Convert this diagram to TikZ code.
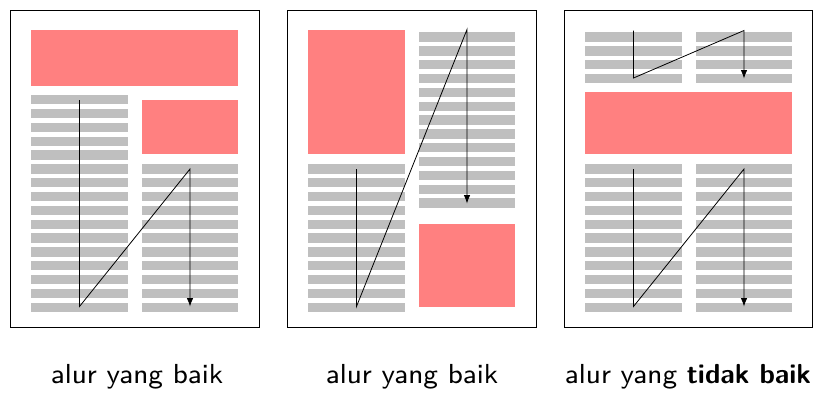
\documentclass[tikz,border=0pt]{standalone}
\usepackage{fontspec}
\newfontfamily\capreg{lmsans8-regular.otf}
\newfontfamily\capbold{lmsans10-bold.otf}
\usetikzlibrary{arrows.meta}
\begin{document}
\begin{tikzpicture}[x=1pt,y=-1pt,
  pageframe/.style={draw=black,line width=0.9pt},
  redblock/.style={fill=red!50,draw=none},
  grayline/.style={fill=black!25,draw=none},
  flow/.style={draw=black,line width=0.8pt,line join=miter,-{Latex[length=8.5pt,width=6.5pt]}},
  caption/.style={anchor=base,inner sep=0pt,font=\capreg\fontsize{27.5}{33}\selectfont}]
\useasboundingbox (0,0) rectangle (814,392);
% ---------- panel 1 ----------
\draw[pageframe] (10.5,10) rectangle (259.5,327.5);
\fill[redblock] (31,30) rectangle (238,86);
\fill[redblock] (142,100) rectangle (238,154);
\foreach \i in {0,...,15}{\fill[grayline] (31,95+\i*13.84) rectangle (128,104.4+\i*13.84);}
\foreach \i in {5,...,15}{\fill[grayline] (142,95+\i*13.84) rectangle (238,104.4+\i*13.84);}
\coordinate (p1a) at (79.5,100);
\coordinate (p1b) at (79.5,306.5);
\coordinate (p1c) at (190,169);
\coordinate (p1d) at (190,306.5);
\draw[flow] (p1a) -- (p1b) -- (p1c) -- (p1d);
\node[caption] (cap1) at (137,383.5) {alur yang baik};
% ---------- panel 2 ----------
\draw[pageframe] (287.5,10) rectangle (536.5,327.5);
\fill[redblock] (308,30) rectangle (405,154);
\fill[redblock] (419,224) rectangle (515,306.7);
\foreach \i in {5,...,15}{\fill[grayline] (308,95+\i*13.84) rectangle (405,104.4+\i*13.84);}
\foreach \i in {0,...,12}{\fill[grayline] (419,32.3+\i*13.84) rectangle (515,41.7+\i*13.84);}
\coordinate (p2a) at (356.5,169);
\coordinate (p2b) at (356.5,306.5);
\coordinate (p2c) at (467,29.5);
\coordinate (p2d) at (467,203.5);
\draw[flow] (p2a) -- (p2b) -- (p2c) -- (p2d);
\node[caption] (cap2) at (412,383.5) {alur yang baik};
% ---------- panel 3 ----------
\draw[pageframe] (564.5,10) rectangle (812.8,327.5);
\fill[redblock] (585,92.3) rectangle (792,154.3);
\foreach \i in {0,...,3}{\fill[grayline] (585,32.3+\i*13.84) rectangle (682,41.7+\i*13.84);
  \fill[grayline] (696,32.3+\i*13.84) rectangle (792,41.7+\i*13.84);}
\foreach \i in {5,...,15}{\fill[grayline] (585,95+\i*13.84) rectangle (682,104.4+\i*13.84);
  \fill[grayline] (696,95+\i*13.84) rectangle (792,104.4+\i*13.84);}
\coordinate (p3a) at (633.5,30.5);
\coordinate (p3b) at (633.5,78);
\coordinate (p3c) at (744,30.5);
\coordinate (p3d) at (744,78.5);
\draw[flow] (p3a) -- (p3b) -- (p3c) -- (p3d);
\coordinate (p3e) at (633.5,169);
\coordinate (p3f) at (633.5,306.5);
\coordinate (p3g) at (744,169);
\coordinate (p3h) at (744,306.5);
\draw[flow] (p3e) -- (p3f) -- (p3g) -- (p3h);
\node[caption] (cap3) at (688,383.5) {alur yang {\capbold tidak baik}};
\end{tikzpicture}
\end{document}
